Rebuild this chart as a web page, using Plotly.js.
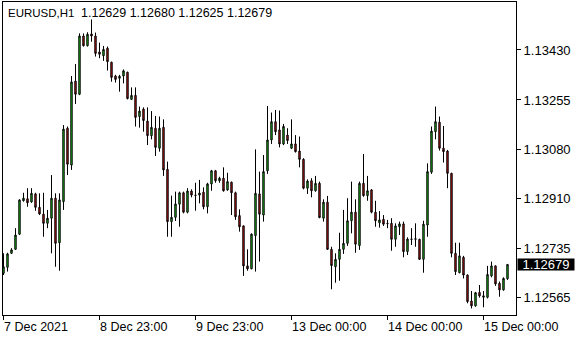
<!DOCTYPE html>
<html>
<head>
<meta charset="utf-8">
<script src="https://cdn.plot.ly/plotly-3.0.1.min.js"></script>
<style>html,body{margin:0;padding:0;background:#fff;}#chart{width:580px;height:340px;}</style>
</head>
<body>
<div id="chart"></div>
<script>
const symbol = "EURUSD,H1";
const openP = [1.12648,1.12669,1.12718,1.12732,1.12785,1.12902,1.12909,1.12898,1.12926,1.12879,
1.12855,1.12823,1.12841,1.12911,1.12755,1.12899,1.13156,1.13027,1.13321,1.13275,
1.13479,1.13445,1.13486,1.13479,1.13423,1.13410,1.13436,1.13387,1.13339,1.13331,
1.13339,1.13352,1.13257,1.13271,1.13197,1.13223,1.13181,1.13130,1.13156,1.13086,
1.13159,1.13012,1.12829,1.12844,1.12890,1.12930,1.12862,1.12936,1.12922,1.12922,
1.12932,1.12881,1.12961,1.13007,1.12972,1.12981,1.12940,1.12967,1.12930,1.12850,
1.12814,1.12674,1.12664,1.12780,1.12926,1.12852,1.13007,1.13115,1.13179,1.13150,
1.13101,1.13132,1.13086,1.13101,1.13076,1.13047,1.12946,1.12972,1.12937,1.12963,
1.12841,1.12897,1.12732,1.12671,1.12697,1.12732,1.12753,1.12832,1.12862,1.12745,
1.12963,1.12920,1.12940,1.12862,1.12825,1.12837,1.12823,1.12823,1.12767,1.12811,
1.12821,1.12724,1.12768,1.12767,1.12767,1.12697,1.12817,1.13002,1.13144,1.13177,
1.13086,1.13076,1.12998,1.12718,1.12650,1.12704,1.12642,1.12551,1.12534,1.12581,
1.12564,1.12564,1.12639,1.12674,1.12613,1.12590,1.12629];
const highP = [1.12718,1.12720,1.12736,1.12806,1.12907,1.12930,1.12946,1.12946,1.12930,1.12928,
1.12930,1.12870,1.12992,1.12928,1.12928,1.13167,1.13162,1.13339,1.13381,1.13488,
1.13488,1.13492,1.13537,1.13491,1.13456,1.13444,1.13442,1.13389,1.13343,1.13343,
1.13362,1.13354,1.13299,1.13299,1.13232,1.13229,1.13229,1.13216,1.13199,1.13197,
1.13187,1.13039,1.12920,1.12934,1.12934,1.12934,1.12946,1.12942,1.12965,1.12975,
1.12949,1.12965,1.13010,1.13010,1.12986,1.13019,1.13000,1.12969,1.12934,1.12872,
1.12816,1.12732,1.12788,1.13082,1.13004,1.13062,1.13234,1.13211,1.13220,1.13218,
1.13171,1.13156,1.13187,1.13132,1.13127,1.13051,1.12977,1.12981,1.12989,1.12969,
1.12907,1.12919,1.12741,1.12718,1.12790,1.12870,1.12911,1.12969,1.12907,1.12969,
1.13066,1.12989,1.12943,1.12902,1.12866,1.12852,1.12835,1.12841,1.12823,1.12829,
1.12829,1.12774,1.12806,1.12823,1.12769,1.12832,1.13033,1.13162,1.13232,1.13197,
1.13164,1.13080,1.13000,1.12755,1.12755,1.12709,1.12644,1.12586,1.12583,1.12607,
1.12586,1.12674,1.12689,1.12676,1.12619,1.12634,1.12680];
const lowP = [1.12642,1.12654,1.12716,1.12730,1.12782,1.12899,1.12881,1.12895,1.12867,1.12852,
1.12776,1.12806,1.12718,1.12671,1.12657,1.12870,1.12992,1.13010,1.13241,1.13272,
1.13442,1.13442,1.13459,1.13407,1.13401,1.13392,1.13358,1.13319,1.13316,1.13284,
1.13313,1.13257,1.13255,1.13162,1.13158,1.13144,1.13097,1.13117,1.13059,1.13074,
1.12989,1.12776,1.12776,1.12831,1.12811,1.12858,1.12858,1.12914,1.12867,1.12893,
1.12872,1.12858,1.12937,1.12965,1.12965,1.12934,1.12937,1.12852,1.12835,1.12794,
1.12639,1.12657,1.12662,1.12654,1.12689,1.12829,1.12996,1.13101,1.13132,1.13089,
1.13097,1.13101,1.13083,1.13071,1.13019,1.12942,1.12926,1.12914,1.12934,1.12841,
1.12829,1.12730,1.12592,1.12615,1.12622,1.12716,1.12744,1.12788,1.12720,1.12730,
1.12916,1.12902,1.12858,1.12811,1.12808,1.12814,1.12806,1.12727,1.12741,1.12782,
1.12704,1.12712,1.12747,1.12741,1.12695,1.12650,1.12776,1.12996,1.13117,1.13078,
1.13036,1.12946,1.12704,1.12642,1.12648,1.12630,1.12543,1.12525,1.12531,1.12563,
1.12529,1.12560,1.12634,1.12604,1.12566,1.12587,1.12625];
const closeP = [1.12671,1.12716,1.12730,1.12782,1.12905,1.12911,1.12895,1.12928,1.12879,1.12856,
1.12823,1.12841,1.12911,1.12753,1.12905,1.13153,1.13030,1.13318,1.13275,1.13479,
1.13445,1.13485,1.13479,1.13418,1.13415,1.13432,1.13389,1.13334,1.13327,1.13338,
1.13357,1.13260,1.13271,1.13194,1.13216,1.13183,1.13130,1.13159,1.13089,1.13156,
1.13010,1.12829,1.12844,1.12891,1.12930,1.12862,1.12936,1.12922,1.12921,1.12929,
1.12881,1.12961,1.13007,1.12972,1.12981,1.12937,1.12969,1.12930,1.12846,1.12811,
1.12674,1.12664,1.12785,1.12928,1.12855,1.13004,1.13115,1.13179,1.13144,1.13101,
1.13162,1.13113,1.13101,1.13074,1.13047,1.12946,1.12971,1.12937,1.12963,1.12843,
1.12897,1.12732,1.12675,1.12697,1.12732,1.12753,1.12832,1.12862,1.12750,1.12963,
1.12920,1.12937,1.12862,1.12832,1.12835,1.12820,1.12822,1.12767,1.12814,1.12821,
1.12724,1.12768,1.12767,1.12769,1.12697,1.12820,1.13004,1.13146,1.13179,1.13086,
1.13074,1.12998,1.12718,1.12654,1.12709,1.12642,1.12549,1.12534,1.12580,1.12569,
1.12569,1.12644,1.12674,1.12611,1.12590,1.12630,1.12679];
const timeTickIdx = [0, 24, 48, 72, 96, 120];
const timeTickText = ["7 Dec 2021", "8 Dec 23:00", "9 Dec 23:00", "13 Dec 00:00", "14 Dec 00:00", "15 Dec 00:00"];
const priceTicks = [1.12565, 1.12735, 1.12910, 1.13080, 1.13255, 1.13430];
const priceTickText = ["1.12565", "1.12735", "1.12910", "1.13080", "1.13255", "1.13430"];

const barIdx = openP.map((_, i) => i);
const last = openP.length - 1;
const FONT = "Liberation Sans, Arial, sans-serif";
const fmt = v => v.toFixed(5);

const trace = {
  type: "candlestick",
  x: barIdx, open: openP, high: highP, low: lowP, close: closeP,
  increasing: {line: {color: "#000000", width: 1}, fillcolor: "#1ee01e"},
  decreasing: {line: {color: "#000000", width: 1}, fillcolor: "#e01414"},
  whiskerwidth: 0,
  hoverinfo: "skip",
  showlegend: false
};

const annotations = timeTickIdx.map((t, i) => ({
  x: t, xref: "x", y: 0, yref: "paper", yanchor: "middle", xanchor: "left",
  yshift: -12, xshift: -2, showarrow: false, text: timeTickText[i],
  font: {family: FONT, size: 12.5, color: "#000"}
}));
annotations.push({
  x: 0, xref: "paper", y: 1, yref: "paper", xanchor: "left", yanchor: "middle",
  xshift: 3, yshift: -11, showarrow: false, text: symbol,
  font: {family: FONT, size: 11.5, color: "#000"}
});
annotations.push({
  x: 0, xref: "paper", y: 1, yref: "paper", xanchor: "left", yanchor: "middle",
  xshift: 76, yshift: -11, showarrow: false,
  text: [openP[last], highP[last], lowP[last], closeP[last]].map(fmt).join(" "),
  font: {family: FONT, size: 12.5, color: "#000"}
});
annotations.push({
  x: 1, xref: "paper", y: closeP[last], yref: "y", xanchor: "left", yanchor: "middle",
  xshift: 1, showarrow: false, text: fmt(closeP[last]), bgcolor: "#000000",
  width: 56, height: 11, borderpad: 0, align: "center",
  font: {family: FONT, size: 13, color: "#ffffff"}
});

const layout = {
  width: 580, height: 340,
  margin: {l: 3, r: 64, t: 2, b: 25, pad: 0},
  paper_bgcolor: "#ffffff", plot_bgcolor: "#ffffff",
  boxgap: 0.5,
  showlegend: false,
  xaxis: {
    type: "linear", range: [-0.125, 128.125], fixedrange: true,
    rangeslider: {visible: false},
    showgrid: false, zeroline: false,
    showline: true, mirror: true, linecolor: "#000", linewidth: 1,
    tickmode: "array", tickvals: timeTickIdx, ticks: "outside", ticklen: 4,
    tickcolor: "#000", tickwidth: 1, showticklabels: false
  },
  yaxis: {
    side: "right", range: [1.12502, 1.13598], fixedrange: true,
    showgrid: false, zeroline: false,
    showline: true, mirror: true, linecolor: "#000", linewidth: 1,
    tickmode: "array", tickvals: priceTicks, ticktext: priceTickText,
    ticks: "outside", ticklen: 4, tickcolor: "#000", tickwidth: 1,
    tickfont: {family: FONT, size: 13, color: "#000"}
  },
  annotations: annotations
};

Plotly.newPlot("chart", [trace], layout, {staticPlot: true, displayModeBar: false});
</script>
</body>
</html>
